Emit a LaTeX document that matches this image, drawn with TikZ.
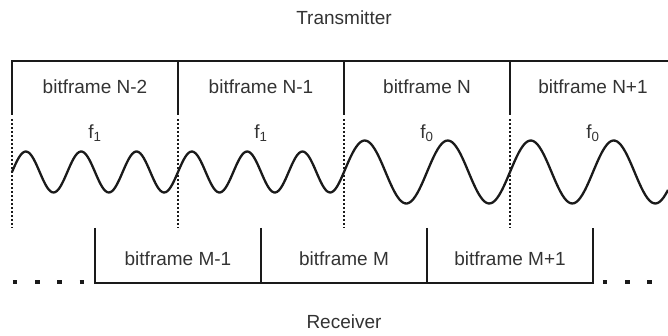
\documentclass[tikz,border=0pt]{standalone}
\usepackage{fontspec}
\setmainfont{Liberation Sans}
\usepackage{tikz}
\definecolor{bfink}{RGB}{26,26,26}
\definecolor{bftext}{RGB}{51,51,51}

\begin{document}
\begin{tikzpicture}[x=1pt, y=-1pt,
  every node/.style={font=\fontsize{19}{21}\selectfont, text=bftext, inner sep=0pt},
  frameline/.style={draw=bfink, line width=2.2pt},
  splitline/.style={draw=bfink, line width=2pt, dash pattern=on 2pt off 2pt},
  wave/.style={draw=bfink, line width=2.3pt, line join=round},
  more/.style={draw=bfink, line width=4.5pt, dash pattern=on 4.5pt off 17.8pt},
  freq/.style={font=\fontsize{19}{21}\selectfont}
]
  \useasboundingbox (0,0) rectangle (668,336);
  \def\tA{12}\def\tB{178}\def\tC{344}\def\tD{510}
  \def\rA{95}\def\rB{261}\def\rC{427}\def\rD{593}

  % titles
  \node (tx) at (344,18) {Transmitter};
  \node (rx) at (344,322) {Receiver};

  % transmitter frames
  \draw[frameline] (\tA,115) -- (\tA,61) -- (668,61);
  \draw[frameline] (\tB,61) -- (\tB,115);
  \draw[frameline] (\tC,61) -- (\tC,115);
  \draw[frameline] (\tD,61) -- (\tD,115);
  \node (bfN2) at (95,87) {bitframe N-2};
  \node (bfN1) at (261,87) {bitframe N-1};
  \node (bfN)  at (427,87) {bitframe N};
  \node (bfN3) at (593,87) {bitframe N+1};

  % frame borders carried down
  \draw[splitline] (\tA,119) -- (\tA,228);
  \draw[splitline] (\tB,119) -- (\tB,228);
  \draw[splitline] (\tC,119) -- (\tC,228);
  \draw[splitline] (\tD,119) -- (\tD,228);

  % carrier: three periods per frame for f1, two for f0
  \node[freq] (fA) at (95,133) {f\textsubscript{1}};
  \node[freq] (fB) at (261,133) {f\textsubscript{1}};
  \node[freq] (fC) at (427,133) {f\textsubscript{0}};
  \node[freq] (fD) at (593,133) {f\textsubscript{0}};
  \draw[wave]
    plot[domain=\tA:\tC, samples=200, smooth] (\x,{172-20.5*sin((1080/166)*(\x-\tA))})
    -- plot[domain=\tC:668, samples=160, smooth] (\x,{172-31.5*sin((720/166)*(\x-\tC))});

  % receiver frames
  \draw[frameline] (\rA,228) -- (\rA,283) -- (\rD,283) -- (\rD,228);
  \draw[frameline] (\rB,228) -- (\rB,283);
  \draw[frameline] (\rC,228) -- (\rC,283);
  \node (bfM1) at (178,259) {bitframe M-1};
  \node (bfM)  at (344,259) {bitframe M};
  \node (bfM2) at (510,259) {bitframe M+1};

  % continuation marks
  \draw[more] (12.75,282) -- (86,282);
  \draw[more] (602.75,282) -- (668,282);
\end{tikzpicture}
\end{document}
